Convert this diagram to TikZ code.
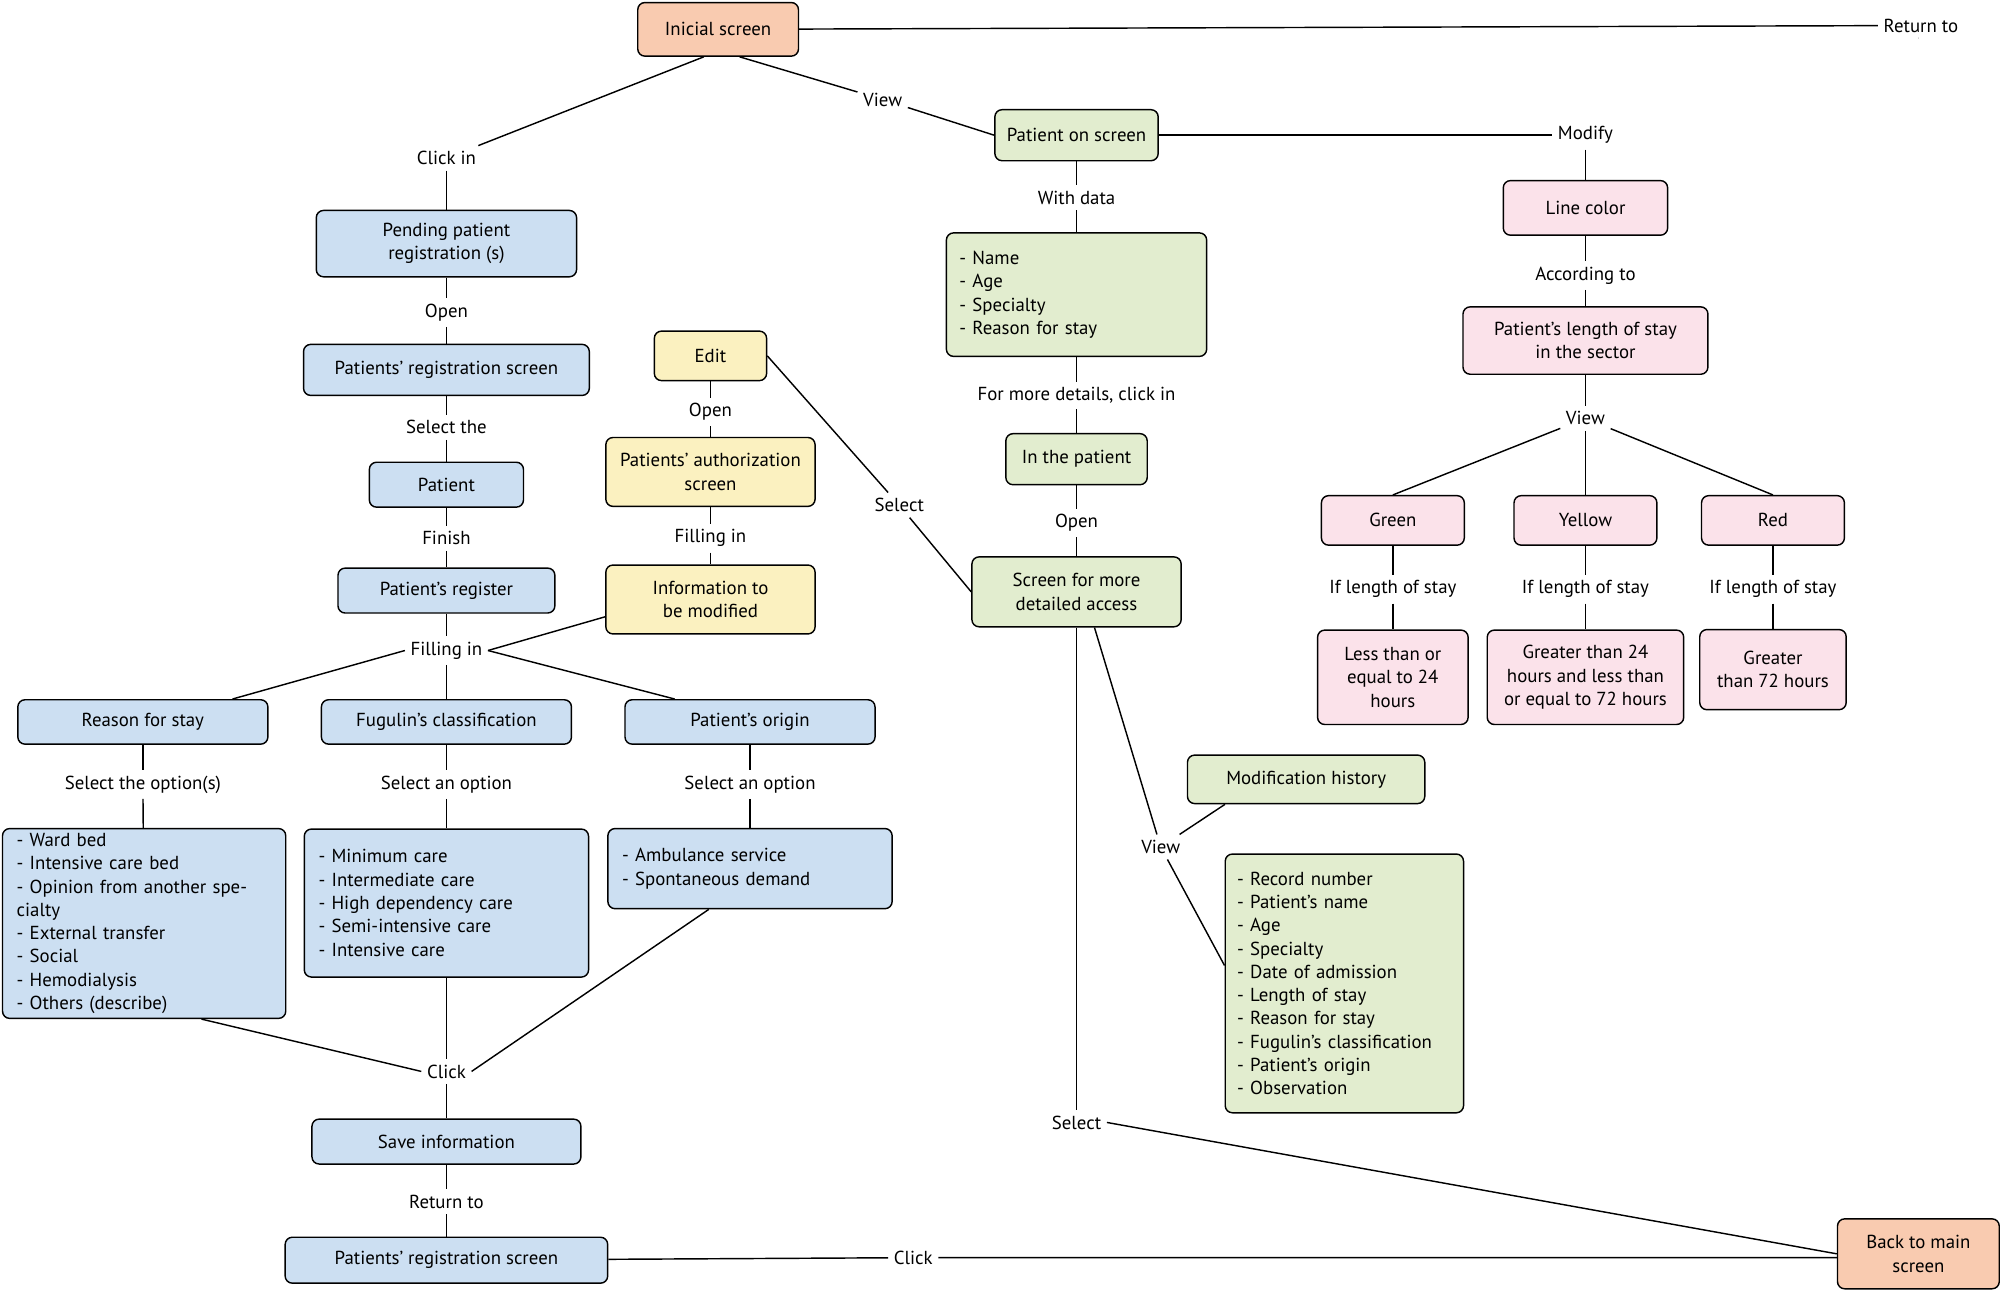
\documentclass[tikz,border=0pt]{standalone}
\usepackage{fontspec}
\setmainfont{PT Sans}
\usepackage{xcolor}
\usetikzlibrary{positioning}
\definecolor{cblue}{HTML}{CCDFF2}
\definecolor{cgreen}{HTML}{E2EDCF}
\definecolor{cpink}{HTML}{FBE2EA}
\definecolor{cyel}{HTML}{FBF1C0}
\definecolor{corg}{HTML}{F9CBB0}
\tikzset{
  bx/.style={draw, thick, rounded corners=4pt, fill=#1, align=center, inner sep=2pt, font=\fontsize{10.5}{13}\selectfont},
  lst/.style={bx=#1, align=left, text width=0.9*\pgfkeysvalueof{/pgf/minimum width}},
  lbl/.style={inner sep=3pt, font=\fontsize{10.5}{13}\selectfont},
  ln/.style={thick}
}
\begin{document}
\begin{tikzpicture}[x=0.025cm,y=-0.025cm]
\useasboundingbox (0,0) rectangle (1568,1011);
% top
\node[bx=corg, minimum width=3.15cm, minimum height=1.05cm] (init) at (563,23) {Inicial screen};
\node[lbl] (ret) at (1506,20) {Return to};
\node[bx=corg, minimum width=3.17cm, minimum height=1.37cm] (back) at (1504,983) {Back to main\\screen};
\node[lbl] (view) at (692,78) {View};
\draw[ln] (init) -- (ret);
\draw[ln] (ret) -- (back.north |- ret.south);
\draw[ln] ([xshift=12]init.south) -- (view);
% patient on screen
\node[bx=cgreen, minimum width=3.2cm, minimum height=1cm] (pos) at (844,106) {Patient on screen};
\draw[ln] (view) -- (pos.west);
\node[lbl] (mod) at (1243,106) {Modify};
\node[bx=cpink, minimum width=3.22cm, minimum height=1.07cm] (lcol) at (1243,163) {Line color};
\node[lbl] (acc) at (1243,216) {According to};
\node[bx=cpink, minimum width=4.8cm, minimum height=1.32cm] (stay) at (1243,267) {Patient's length of stay\\in the sector};
\node[lbl] (view2) at (1243,328) {View};
\draw[ln] (pos) -- (mod) -- (lcol) -- (acc) -- (stay) -- (view2);
\foreach \nm/\x/\tx in {green/1092/Green, yellow/1243/Yellow, red/1390/Red}{
  \node[bx=cpink, minimum width=2.8cm, minimum height=0.97cm] (\nm) at (\x,408) {\tx};
  \node[lbl] (if\nm) at (\x,462) {If length of stay};
  \draw[ln] (view2) -- (\nm.north);
  \draw[ln] (\nm) -- (if\nm);
}
\node[bx=cpink, minimum width=2.95cm, minimum height=1.85cm] (lt) at (1092,531) {Less than or\\equal to 24\\hours};
\node[bx=cpink, minimum width=3.85cm, minimum height=1.85cm] (gt) at (1243,531) {Greater than 24\\hours and less than\\or equal to 72 hours};
\node[bx=cpink, minimum width=2.87cm, minimum height=1.57cm] (gts) at (1390,525) {Greater\\than 72 hours};
\draw[ln] (ifgreen) -- (lt);
\draw[ln] (ifyellow) -- (gt);
\draw[ln] (ifred) -- (gts);
% middle column
\node[lbl] (wd) at (844,155) {With data};
\node[lst=cgreen, minimum width=5.1cm, minimum height=2.42cm] (data) at (844,231) {- Name\\- Age\\- Specialty\\- Reason for stay};
\node[lbl] (more) at (844,310) {For more details, click in};
\node[bx=cgreen, minimum width=2.77cm, minimum height=1cm] (inpat) at (844,360) {In the patient};
\node[lbl] (open3) at (844,410) {Open};
\node[bx=cgreen, minimum width=4.1cm, minimum height=1.37cm] (scr) at (844,464) {Screen for more\\detailed access};
\draw[ln] (pos) -- (wd) -- (data) -- (more) -- (inpat) -- (open3) -- (scr);
\node[lbl] (sel2) at (844,880) {Select};
\draw[ln] (scr) -- (sel2);
\draw[ln] (sel2.east) -- (back.west);
\node[lbl] (view3) at (910,664) {View};
\node[bx=cgreen, minimum width=4.65cm, minimum height=0.95cm] (hist) at (1024,611) {Modification history};
\node[lst=cgreen, minimum width=4.67cm, minimum height=5.07cm] (big) at (1054,771) {- Record number\\- Patient's name\\- Age\\- Specialty\\- Date of admission\\- Length of stay\\- Reason for stay\\- Fugulin's classification\\- Patient's origin\\- Observation};
\draw[ln] ([xshift=10]scr.south) -- (view3);
\draw[ln] (hist.south west) ++(30,0) -- (view3);
\draw[ln] (view3) -- ([yshift=10]big.west);
% edit
\node[bx=cyel, minimum width=2.2cm, minimum height=0.97cm] (edit) at (557,279) {Edit};
\node[lbl] (open2) at (557,323) {Open};
\node[bx=cyel, minimum width=4.1cm, minimum height=1.35cm] (auth) at (557,370) {Patients' authorization\\screen};
\node[lbl] (fill2) at (557,422) {Filling in};
\node[bx=cyel, minimum width=4.1cm, minimum height=1.35cm] (info) at (557,470) {Information to\\be modified};
\draw[ln] (edit) -- (open2) -- (auth) -- (fill2) -- (info);
\node[lbl] (sel1) at (705,396) {Select};
\draw[ln] (edit.east) -- (sel1) -- (scr.west);
% left column
\node[lbl] (clk1) at (350,124) {Click in};
\draw[ln] ([xshift=-8]init.south) -- (clk1);
\node[bx=cblue, minimum width=5.1cm, minimum height=1.3cm] (pend) at (350,191) {Pending patient\\registration (s)};
\node[lbl] (open1) at (350,245) {Open};
\node[bx=cblue, minimum width=5.6cm, minimum height=1cm] (reg) at (350,290) {Patients' registration screen};
\node[lbl] (selt) at (350,335) {Select the};
\node[bx=cblue, minimum width=3.02cm, minimum height=0.88cm] (pat) at (350,380) {Patient};
\node[lbl] (fin) at (350,422) {Finish};
\node[bx=cblue, minimum width=4.25cm, minimum height=0.88cm] (preg) at (350,463) {Patient's register};
\node[lbl] (fill1) at (350,510) {Filling in};
\draw[ln] (clk1) -- (pend) -- (open1) -- (reg) -- (selt) -- (pat) -- (fin) -- (preg) -- (fill1);
\draw[ln] (info.south west) ++(0,-14) -- (fill1.east);
\foreach \nm/\x/\tx/\st in {rsn/112/Reason for stay/Select the option(s), fug/350/Fugulin's classification/Select an option, org/588/Patient's origin/Select an option}{
  \node[bx=cblue, minimum width=4.9cm, minimum height=0.87cm] (\nm) at (\x,566) {\tx};
  \node[lbl] (s\nm) at (\x,615) {\st};
  \draw[ln] (\nm) -- (s\nm);
}
\draw[ln] (fill1.west) -- ([xshift=50]rsn.north);
\draw[ln] (fill1) -- (fug);
\draw[ln] (fill1.east) -- ([xshift=-42]org.north);
\node[lst=cblue, minimum width=5.55cm, minimum height=3.72cm] (l1) at (113,724) {- Ward bed\\- Intensive care bed\\- Opinion from another specialty\\- External transfer\\- Social\\- Hemodialysis\\- Others (describe)};
\node[lst=cblue, minimum width=5.57cm, minimum height=2.9cm] (l2) at (350,708) {- Minimum care\\- Intermediate care\\- High dependency care\\- Semi-intensive care\\- Intensive care};
\node[lst=cblue, minimum width=5.57cm, minimum height=1.57cm] (l3) at (588,681) {- Ambulance service\\- Spontaneous demand};
\draw[ln] (srsn) -- (l1);
\draw[ln] (sfug) -- (l2);
\draw[ln] (sorg) -- (l3);
\node[lbl] (clk2) at (350,840) {Click};
\draw[ln] ([xshift=32]l1.south) -- (clk2.west);
\draw[ln] (l2) -- (clk2);
\draw[ln] ([xshift=-23]l3.south) -- (clk2.east);
\node[bx=cblue, minimum width=5.27cm, minimum height=0.88cm] (save) at (350,895) {Save information};
\node[lbl] (ret2) at (350,942) {Return to};
\node[bx=cblue, minimum width=6.32cm, minimum height=0.9cm] (reg2) at (350,988) {Patients' registration screen};
\draw[ln] (clk2) -- (save) -- (ret2) -- (reg2);
\node[lbl] (clk3) at (716,986) {Click};
\draw[ln] (reg2) -- (clk3) -- (back.west |- clk3);
\end{tikzpicture}
\end{document}
